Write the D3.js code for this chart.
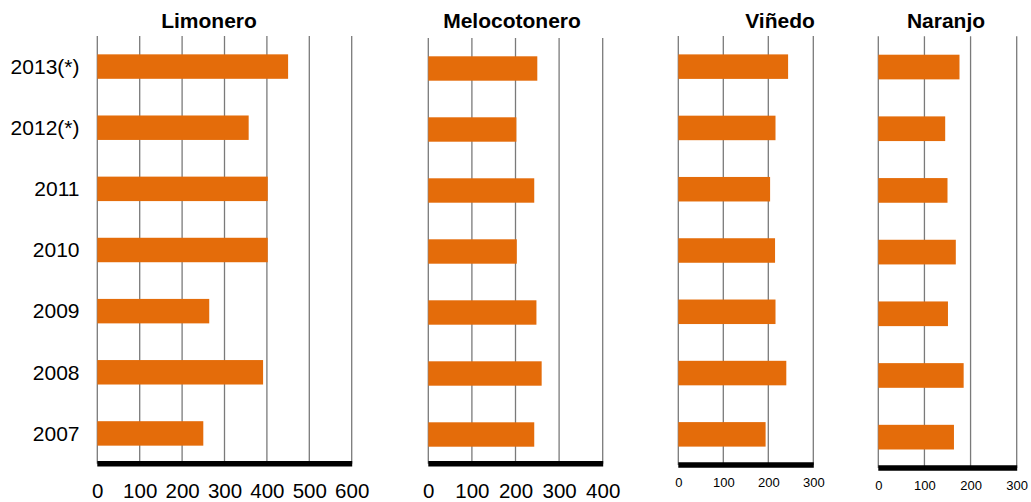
<!DOCTYPE html>
<html>
<head>
<meta charset="utf-8">
<script src="https://cdn.jsdelivr.net/npm/d3@7"></script>
<style>
  html, body { margin: 0; padding: 0; background: #fff; }
  svg { display: block; font-family: "Liberation Sans", Arial, sans-serif; }
</style>
</head>
<body>
<svg id="chart" width="1031" height="502"></svg>
<script>
// ---- Data ----
const categories = ["2013(*)", "2012(*)", "2011", "2010", "2009", "2008", "2007"];
const panelTitles = ["Limonero", "Melocotonero", "Viñedo", "Naranjo"];
const limonero = [450, 357, 402, 402, 264, 391, 250];
const melocotonero = [250, 202, 243, 203, 248, 260, 243];
const vinedo = [244, 216, 204, 215, 216, 240, 194];
const naranjo = [176, 145, 150, 168, 151, 185, 164];
const ticksLimonero = [0, 100, 200, 300, 400, 500, 600];
const ticksMelocotonero = [0, 100, 200, 300, 400];
const ticksVinedo = [0, 100, 200, 300];
const ticksNaranjo = [0, 100, 200, 300];

// ---- Layout ----
const panels = [
  { title: panelTitles[0], values: limonero, ticks: ticksLimonero, x: [97.3, 351.7], y: [36, 464], axisY: 463.8, tickFont: 20.5, tickY: 497.5, titleX: 209, showCats: true },
  { title: panelTitles[1], values: melocotonero, ticks: ticksMelocotonero, x: [428.3, 602.7], y: [38, 465], axisY: 463.8, tickFont: 20.5, tickY: 497.5, titleX: 512, showCats: false },
  { title: panelTitles[2], values: vinedo, ticks: ticksVinedo, x: [678.3, 813.3], y: [36, 465], axisY: 465, tickFont: 13, tickY: 487, titleX: 780, showCats: false },
  { title: panelTitles[3], values: naranjo, ticks: ticksNaranjo, x: [878.3, 1016.7], y: [36.2, 468], axisY: 468, tickFont: 13, tickY: 489.5, titleX: 946, showCats: false }
];

const svg = d3.select("#chart");
const barColor = "#E46C0A";

panels.forEach(p => {
  const g = svg.append("g");
  const x = d3.scaleLinear().domain([p.ticks[0], p.ticks[p.ticks.length - 1]]).range(p.x);
  const y = d3.scaleBand().domain(categories).range(p.y).paddingInner(0.6).paddingOuter(0.3);

  // gridlines
  g.selectAll("line.grid").data(p.ticks).join("line")
    .attr("class", "grid")
    .attr("x1", d => x(d)).attr("x2", d => x(d))
    .attr("y1", p.y[0]).attr("y2", p.axisY)
    .attr("stroke", "#7a7a7a").attr("stroke-width", 1.3);

  // bars
  g.selectAll("rect.bar").data(categories).join("rect")
    .attr("class", "bar")
    .attr("x", x(0))
    .attr("y", d => y(d))
    .attr("width", (d, i) => x(p.values[i]) - x(0))
    .attr("height", y.bandwidth())
    .attr("fill", barColor);

  // thick bottom axis line
  g.append("line")
    .attr("x1", x.range()[0]).attr("x2", x.range()[1] + 0.5)
    .attr("y1", p.axisY).attr("y2", p.axisY)
    .attr("stroke", "#000").attr("stroke-width", 5.6);

  // tick labels via axis
  const axis = d3.axisBottom(x).tickValues(p.ticks).tickSize(0).tickPadding(0).tickFormat(d3.format("d"));
  const ag = g.append("g").attr("transform", `translate(0,${p.tickY})`).call(axis);
  ag.select(".domain").remove();
  ag.selectAll("text")
    .attr("dy", 0).attr("y", 0)
    .attr("font-size", p.tickFont)
    .attr("font-family", "Liberation Sans, Arial, sans-serif")
    .attr("fill", "#000");

  // title
  g.append("text")
    .attr("x", p.titleX).attr("y", 28)
    .attr("text-anchor", "middle")
    .attr("font-size", 21).attr("font-weight", "bold")
    .attr("fill", "#000")
    .text(p.title);

  // category labels
  if (p.showCats) {
    g.selectAll("text.cat").data(categories).join("text")
      .attr("class", "cat")
      .attr("x", 79.5)
      .attr("y", d => y(d) + y.bandwidth() / 2 + 7.3)
      .attr("text-anchor", "end")
      .attr("font-size", 21)
      .attr("fill", "#000")
      .text(d => d);
  }
});
</script>
</body>
</html>
